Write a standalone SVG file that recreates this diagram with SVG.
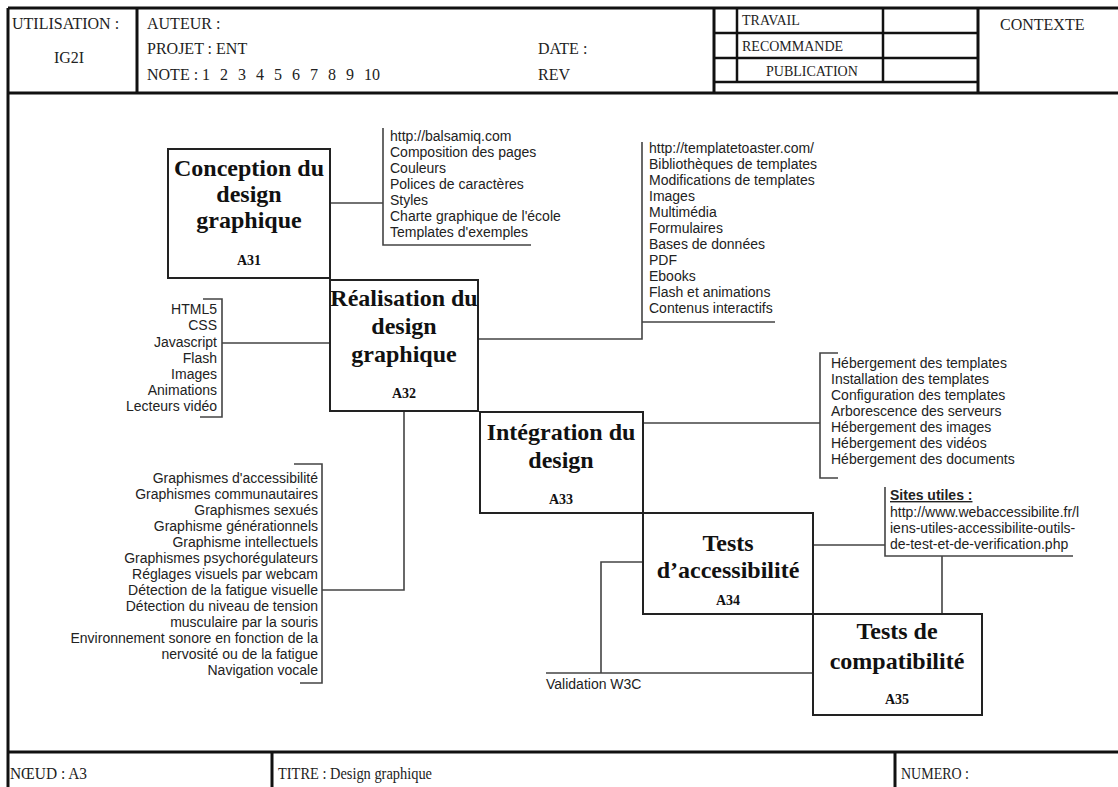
<svg xmlns="http://www.w3.org/2000/svg" width="1118" height="787" viewBox="0 0 1118 787">
  <style>
    .frame { stroke: #111; stroke-width: 3; fill: none; }
    .cell { stroke: #111; stroke-width: 2.5; fill: none; }
    .hdr { font-family: "Liberation Serif", "Times New Roman", serif; font-size: 16px; fill: #222; }
    .small { font-size: 14px; }
    .box { fill: #fff; stroke: #222; stroke-width: 2; }
    .title { font-family: "Liberation Serif", "Times New Roman", serif; font-size: 24px; font-weight: bold; fill: #111; text-anchor: middle; }
    .code { font-family: "Liberation Serif", "Times New Roman", serif; font-size: 14px; font-weight: bold; fill: #111; text-anchor: middle; }
    .item { font-family: "Liberation Sans", Arial, sans-serif; font-size: 14px; fill: #222; }
    .rt { text-anchor: end; }
    .wire { stroke: #444; stroke-width: 1.6; fill: none; }
  </style>

  <rect x="0" y="0" width="1118" height="787" fill="#fff"/>

  <!-- title block: header -->
  <g id="header">
    <path class="frame" d="M8,8 H1118 M8,93 H1118 M8,8 V787 M137,8 V93 M714,8 V93 M978,8 V93"/>
    <path class="cell" d="M737,8 V82 M883,8 V82 M714,33 H978 M714,58 H978 M714,82 H978"/>
    <text class="hdr" x="12" y="29">UTILISATION :</text>
    <text class="hdr" x="69" y="63" text-anchor="middle">IG2I</text>
    <text class="hdr" x="147" y="29">AUTEUR :</text>
    <text class="hdr" x="147" y="54">PROJET : ENT</text>
    <text class="hdr" x="147" y="80">NOTE : <tspan word-spacing="6">1 2 3 4 5 6 7 8 9 10</tspan></text>
    <text class="hdr" x="538" y="54">DATE :</text>
    <text class="hdr" x="538" y="80">REV</text>
    <text class="hdr small" x="742" y="25">TRAVAIL</text>
    <text class="hdr small" x="742" y="51">RECOMMANDE</text>
    <text class="hdr small" x="766" y="76">PUBLICATION</text>
    <text class="hdr" x="1000" y="30">CONTEXTE</text>
  </g>

  <!-- title block: footer -->
  <g id="footer">
    <path class="frame" d="M8,752 H1118 M272,752 V787 M895,752 V787"/>
    <text class="hdr" x="10" y="779" textLength="77" lengthAdjust="spacingAndGlyphs">NŒUD : A3</text>
    <text class="hdr" x="278" y="779" textLength="154" lengthAdjust="spacingAndGlyphs">TITRE : Design graphique</text>
    <text class="hdr" x="901" y="779" textLength="68" lengthAdjust="spacingAndGlyphs">NUMERO :</text>
  </g>

  <!-- connectors and list brackets -->
  <g id="connectors">
    <path class="wire" d="M330,203 H383 M383,128 V245 H531"/>
    <path class="wire" d="M478,339 H642 V142 M642,322 H775"/>
    <path class="wire" d="M203,299 H222 V417 H200 M222,343 H330"/>
    <path class="wire" d="M838,353 H820 V478 H838 M643,423 H820"/>
    <path class="wire" d="M294,464 H322 V683 H300 M322,590 H404 V411"/>
    <path class="wire" d="M813,545 H885 M885,487 V556 H1073 M942,556 V614"/>
    <path class="wire" d="M546,673 H813 M601,673 V562 H643"/>
  </g>

  <!-- activity boxes -->
  <g id="A31">
    <rect class="box" x="168" y="149" width="162" height="129"/>
    <text class="title" x="249" y="176">Conception du</text>
    <text class="title" x="249" y="202">design</text>
    <text class="title" x="249" y="228">graphique</text>
    <text class="code" x="249" y="265">A31</text>
  </g>
  <g id="A32">
    <rect class="box" x="330" y="280" width="148" height="131"/>
    <text class="title" x="404" y="306">Réalisation du</text>
    <text class="title" x="404" y="334">design</text>
    <text class="title" x="404" y="362">graphique</text>
    <text class="code" x="404" y="398">A32</text>
  </g>
  <g id="A33">
    <rect class="box" x="480" y="412" width="163" height="101"/>
    <text class="title" x="561" y="440">Intégration du</text>
    <text class="title" x="561" y="468">design</text>
    <text class="code" x="561" y="504">A33</text>
  </g>
  <g id="A34">
    <rect class="box" x="643" y="513" width="170" height="101"/>
    <text class="title" x="728" y="551">Tests</text>
    <text class="title" x="728" y="578">d’accessibilité</text>
    <text class="code" x="728" y="605">A34</text>
  </g>
  <g id="A35">
    <rect class="box" x="813" y="614" width="169" height="101"/>
    <text class="title" x="897" y="639">Tests de</text>
    <text class="title" x="897" y="669">compatibilité</text>
    <text class="code" x="897" y="704">A35</text>
  </g>

  <!-- annotation lists -->
  <g id="list-conception" class="item">
    <text x="390" y="141">http://balsamiq.com</text>
    <text x="390" y="157">Composition des pages</text>
    <text x="390" y="173">Couleurs</text>
    <text x="390" y="189">Polices de caractères</text>
    <text x="390" y="205">Styles</text>
    <text x="390" y="221">Charte graphique de l'école</text>
    <text x="390" y="237">Templates d'exemples</text>
  </g>
  <g id="list-templates" class="item">
    <text x="649" y="153">http://templatetoaster.com/</text>
    <text x="649" y="169">Bibliothèques de templates</text>
    <text x="649" y="185">Modifications de templates</text>
    <text x="649" y="201">Images</text>
    <text x="649" y="217">Multimédia</text>
    <text x="649" y="233">Formulaires</text>
    <text x="649" y="249">Bases de données</text>
    <text x="649" y="265">PDF</text>
    <text x="649" y="281">Ebooks</text>
    <text x="649" y="297">Flash et animations</text>
    <text x="649" y="313">Contenus interactifs</text>
  </g>
  <g id="list-technos" class="item rt">
    <text x="217" y="314">HTML5</text>
    <text x="217" y="330">CSS</text>
    <text x="217" y="347">Javascript</text>
    <text x="217" y="363">Flash</text>
    <text x="217" y="379">Images</text>
    <text x="217" y="395">Animations</text>
    <text x="217" y="411">Lecteurs vidéo</text>
  </g>
  <g id="list-hebergement" class="item">
    <text x="831" y="368">Hébergement des templates</text>
    <text x="831" y="384">Installation des templates</text>
    <text x="831" y="400">Configuration des templates</text>
    <text x="831" y="416">Arborescence des serveurs</text>
    <text x="831" y="432">Hébergement des images</text>
    <text x="831" y="448">Hébergement des vidéos</text>
    <text x="831" y="464">Hébergement des documents</text>
  </g>
  <g id="list-graphismes" class="item rt">
    <text x="318" y="483">Graphismes d'accessibilité</text>
    <text x="318" y="499">Graphismes communautaires</text>
    <text x="318" y="515">Graphismes sexués</text>
    <text x="318" y="531">Graphisme générationnels</text>
    <text x="318" y="547">Graphisme intellectuels</text>
    <text x="318" y="563">Graphismes psychorégulateurs</text>
    <text x="318" y="579">Réglages visuels par webcam</text>
    <text x="318" y="595">Détection de la fatigue visuelle</text>
    <text x="318" y="611">Détection du niveau de tension</text>
    <text x="318" y="627">musculaire par la souris</text>
    <text x="318" y="643">Environnement sonore en fonction de la</text>
    <text x="318" y="659">nervosité ou de la fatigue</text>
    <text x="318" y="675">Navigation vocale</text>
  </g>
  <g id="list-sites" class="item" font-size="13.3">
    <text x="890" y="500" font-weight="bold" text-decoration="underline">Sites utiles :</text>
    <text x="890" y="517">http://www.webaccessibilite.fr/l</text>
    <text x="890" y="533">iens-utiles-accessibilite-outils-</text>
    <text x="890" y="549">de-test-et-de-verification.php</text>
  </g>
  <g id="list-validation" class="item">
    <text x="546" y="689">Validation W3C</text>
  </g>
</svg>
